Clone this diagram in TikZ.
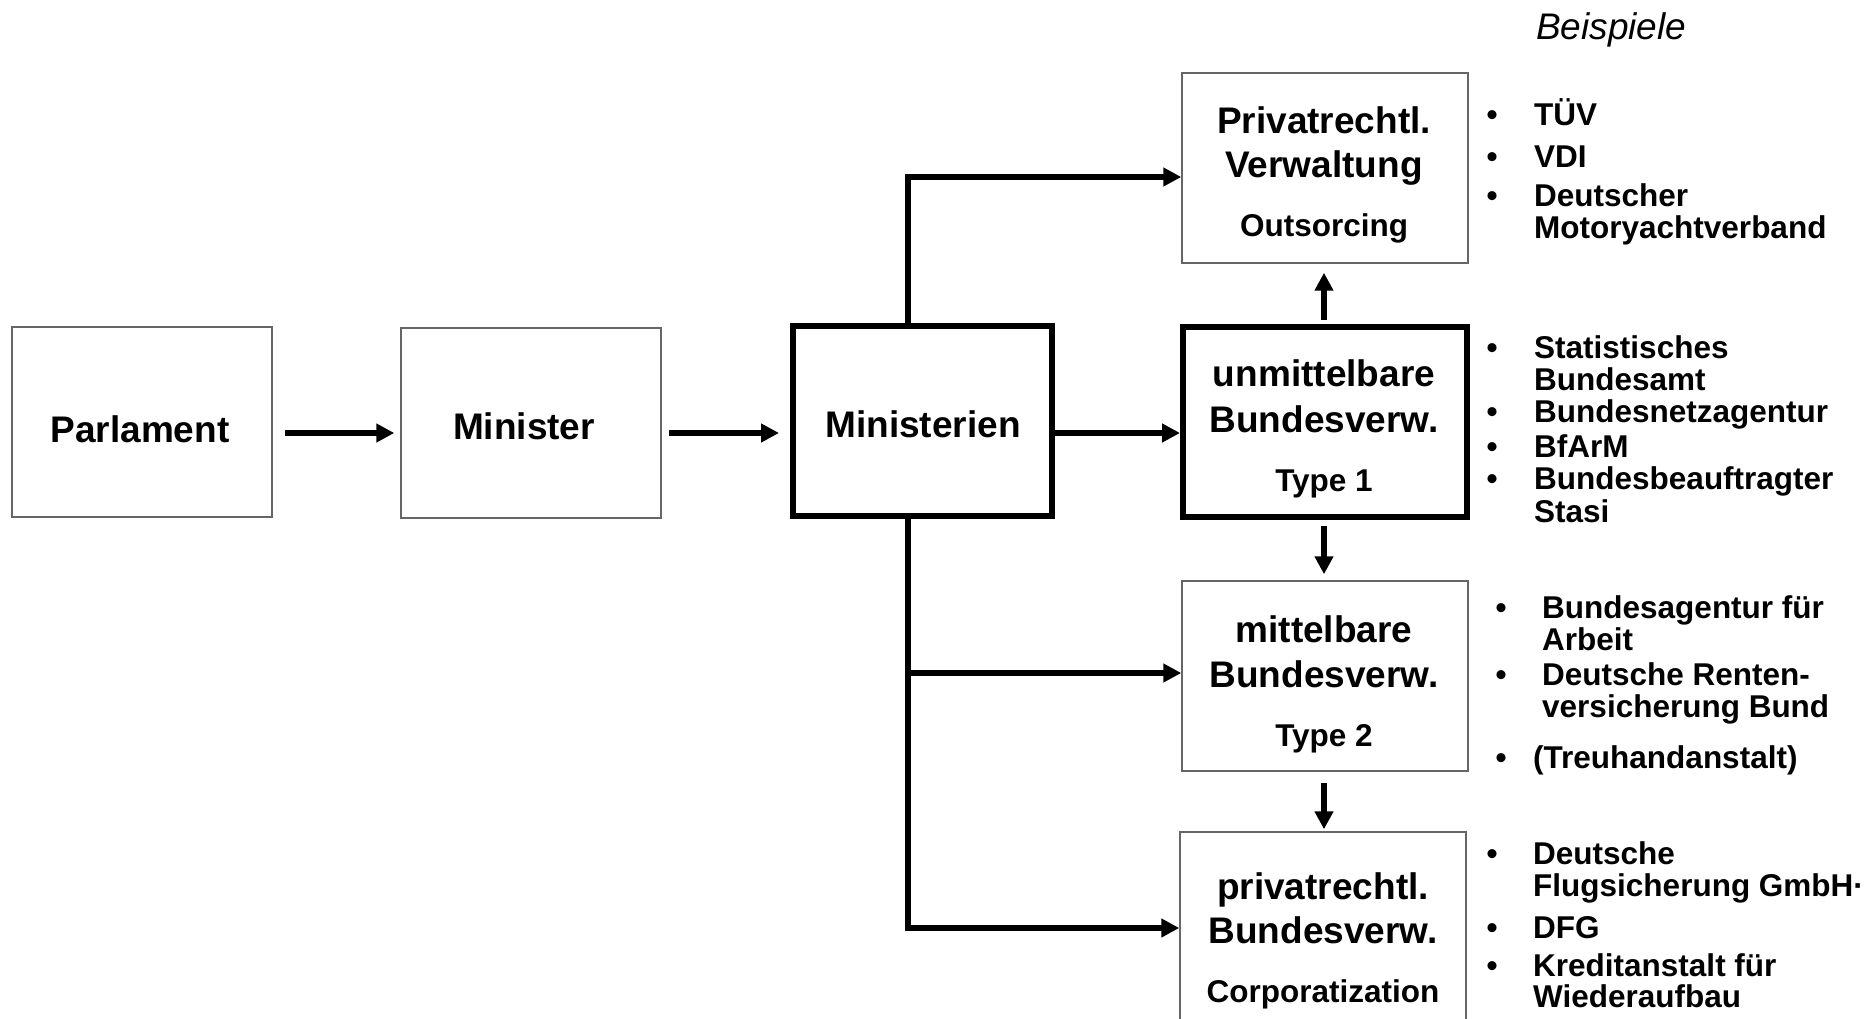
\documentclass[tikz,border=0pt]{standalone}
\usepackage{fontspec}
\setmainfont{Liberation Sans}
\usetikzlibrary{arrows.meta,calc}
\begin{document}
\begin{tikzpicture}[x=1pt,y=-1pt,
  ybox/.style={draw=black!60, line width=1.5pt, minimum height=190pt, inner sep=0pt},
  tbox/.style={draw=black, line width=6pt, minimum height=190pt, inner sep=0pt},
  big/.style={font=\fontsize{37}{40}\selectfont\bfseries, anchor=base, inner sep=0pt},
  sml/.style={font=\fontsize{31.5}{33}\selectfont\bfseries, anchor=base, inner sep=0pt},
  lst/.style={font=\fontsize{31.5}{33}\selectfont\bfseries, anchor=base west, inner sep=0pt},
  bul/.style={font=\fontsize{31.5}{33}\selectfont\bfseries, anchor=base, inner sep=0pt},
  arr/.style={line width=6pt, line join=miter, -{Triangle[length=18pt,width=18pt]}}
]
\useasboundingbox (0,0) rectangle (1875,1019);
\clip (0,0) rectangle (1875,1019);

% boxes
\node[ybox, minimum width=260pt] (parl) at (142,422) {};
\node[ybox, minimum width=260pt] (mini) at (531,423) {};
\node[tbox, minimum width=259pt] (mins) at (922.5,421) {};
\node[ybox, minimum width=286pt] (priv) at (1325,168) {};
\node[tbox, minimum width=284pt] (unm) at (1325,422) {};
\node[ybox, minimum width=286pt] (mit) at (1325,676) {};
\node[ybox, minimum width=286pt] (pbv) at (1323,927) {};

% box texts
\node[big] (tparl) at (140,442) {Parlament};
\node[big] (tmini) at (524,439) {Minister};
\node[big] (tmins) at (923,437) {Ministerien};

\node[big] (tpriv1) at (1324,134) {Privatrechtl.};
\node[big] (tpriv2) at (1324,178) {Verwaltung};
\node[sml] (tpriv3) at (1324,237) {Outsorcing};

\node[big] (tunm1) at (1324,386) {unmittelbare};
\node[big] (tunm2) at (1324,432) {Bundesverw.};
\node[sml] (tunm3) at (1324,491) {Type 1};

\node[big] (tmit1) at (1324,642) {mittelbare};
\node[big] (tmit2) at (1324,687) {Bundesverw.};
\node[sml] (tmit3) at (1324,746) {Type 2};

\node[big] (tpbv1) at (1323,899) {privatrechtl.};
\node[big] (tpbv2) at (1323,943) {Bundesverw.};
\node[sml] (tpbv3) at (1323,1002) {Corporatization};

% heading
\node[font=\fontsize{37}{40}\selectfont\itshape, anchor=base west, inner sep=0pt] (beisp) at (1536,40) {Beispiele};

% list 1
\node[bul] (b11) at (1492,126) {•};
\node[lst] (l11) at (1534,126) {TÜV};
\node[bul] (b12) at (1492,168) {•};
\node[lst] (l12) at (1534,168) {VDI};
\node[bul] (b13) at (1492,207) {•};
\node[lst] (l13) at (1534,207) {Deutscher};
\node[lst] (l14) at (1534,239) {Motoryachtverband};

% list 2
\node[bul] (b21) at (1492,358) {•};
\node[lst] (l21) at (1534,358) {Statistisches};
\node[lst] (l22) at (1534,390) {Bundesamt};
\node[bul] (b23) at (1492,422) {•};
\node[lst] (l23) at (1534,422) {Bundesnetzagentur};
\node[bul] (b24) at (1492,457) {•};
\node[lst] (l24) at (1534,457) {BfArM};
\node[bul] (b25) at (1492,489) {•};
\node[lst] (l25) at (1534,489) {Bundesbeauftragter};
\node[lst] (l26) at (1534,522) {Stasi};

% list 3
\node[bul] (b31) at (1501,618) {•};
\node[lst] (l31) at (1542,618) {Bundesagentur für};
\node[lst] (l32) at (1542,650) {Arbeit};
\node[bul] (b33) at (1501,685) {•};
\node[lst] (l33) at (1542,685) {Deutsche Renten-};
\node[lst] (l34) at (1542,717) {versicherung Bund};
\node[bul] (b35) at (1501,768) {•};
\node[lst] (l35) at (1533,768) {(Treuhandanstalt)};

% list 4
\node[bul] (b41) at (1492,864) {•};
\node[lst] (l41) at (1533,864) {Deutsche};
\node[lst] (l42) at (1533,896) {Flugsicherung GmbH·};
\node[bul] (b43) at (1492,938) {•};
\node[lst] (l43) at (1533,938) {DFG};
\node[bul] (b44) at (1492,976) {•};
\node[lst] (l44) at (1533,976) {Kreditanstalt für};
\node[lst] (l45) at (1533,1007) {Wiederaufbau};

% horizontal arrows (all at y = 433)
\coordinate (a1) at ($(parl.east)+(12,11)$);
\coordinate (e1) at ($(mini.west)+(-6,0)$);
\coordinate (a2) at ($(mini.east)+(7,10)$);
\coordinate (e2) at ($(mins.west)+(-11,0)$);
\coordinate (a3) at ($(mins.east)+(0,12)$);
\draw[arr] (a1) -- (e1 |- a1);
\draw[arr] (a2) -- (e2 |- a2);
\draw[arr] (a3) -- (unm.west |- a3);

% branches from Ministerien
\coordinate (up) at ($(mins.north)+(-14.5,0)$);
\coordinate (dn) at ($(mins.south)+(-14.5,0)$);
\draw[arr] (up) |- ($(priv.west)+(0,9)$);
\draw[arr] (dn) |- ($(mit.west)+(0,-3)$);
\draw[arr] (dn) |- ($(pbv.west)+(0,1)$);

% vertical arrows
\draw[arr, shorten <=4pt, shorten >=9pt] ($(unm.north)+(-1,0)$) -- ($(priv.south)+(-1,0)$);
\draw[arr, shorten <=6pt, shorten >=6pt] ($(unm.south)+(-1,0)$) -- ($(mit.north)+(-1,0)$);
\draw[arr, shorten <=11pt, shorten >=2pt] ($(mit.south)+(-1,0)$) -- ($(pbv.north)+(1,0)$);
\end{tikzpicture}
\end{document}
